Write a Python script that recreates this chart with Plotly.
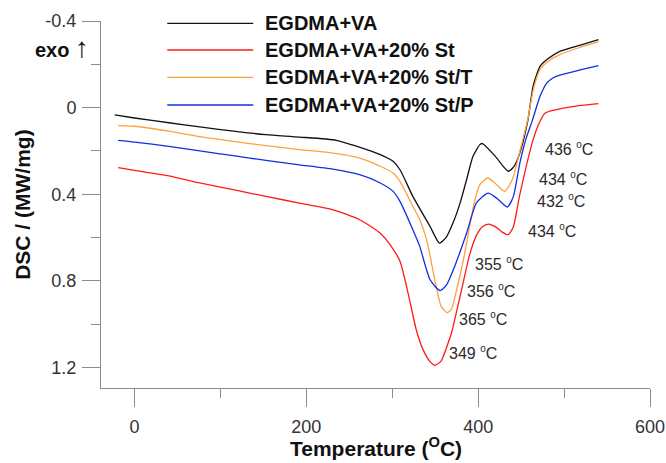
import plotly.graph_objects as go

# ---------------- data ----------------
series_names = ["EGDMA+VA", "EGDMA+VA+20% St", "EGDMA+VA+20% St/T", "EGDMA+VA+20% St/P"]
series_colors = ["#111111", "#ff1a1a", "#ffa040", "#1030e0"]

temp_black = [-23, 0, 40, 76, 115, 153, 192, 235, 259, 286, 301, 309, 324, 344, 355, 363, 371, 379, 386.5,
              394, 402, 405, 420, 435, 442, 448.5, 458, 464, 472, 480, 495, 520, 540]
dsc_black = [0.034, 0.048, 0.07, 0.089, 0.109, 0.125, 0.136, 0.151, 0.179, 0.217, 0.248, 0.287, 0.41, 0.549,
             0.626, 0.598, 0.53, 0.44, 0.333, 0.225, 0.171, 0.166, 0.225, 0.294, 0.27, 0.21, 0.055, -0.1,
             -0.19, -0.222, -0.26, -0.29, -0.314]

temp_red = [-19, 0, 40, 76, 115, 153, 192, 231, 262, 286, 297, 309, 321, 328, 336, 344, 350, 357, 363, 369,
            375, 383, 390, 398, 405, 412, 420, 428, 435, 441, 448, 456, 464, 470, 478, 490, 510, 540]
dsc_red = [0.277, 0.29, 0.315, 0.348, 0.379, 0.41, 0.441, 0.472, 0.518, 0.58, 0.63, 0.71, 0.903, 1.027, 1.119,
           1.173, 1.19, 1.17, 1.11, 1.04, 0.94, 0.8, 0.68, 0.59, 0.55, 0.538, 0.55, 0.575, 0.587, 0.55, 0.41,
           0.27, 0.148, 0.08, 0.025, 0.01, -0.005, -0.018]

temp_orange = [-19, 0, 40, 76, 115, 153, 192, 231, 262, 286, 301, 309, 324, 332, 340, 348, 352, 357, 364, 369,
               375, 383, 390, 396, 402, 411, 420, 431, 440, 448, 458, 464, 472, 480, 495, 520, 540]
dsc_orange = [0.083, 0.086, 0.109, 0.134, 0.156, 0.176, 0.194, 0.21, 0.233, 0.271, 0.302, 0.341, 0.456, 0.518,
              0.61, 0.765, 0.842, 0.918, 0.947, 0.93, 0.84, 0.7, 0.55, 0.43, 0.356, 0.325, 0.35, 0.387, 0.33,
              0.21, 0.05, -0.08, -0.176, -0.21, -0.245, -0.28, -0.305]

temp_blue = [-19, 0, 40, 76, 115, 153, 192, 231, 262, 286, 301, 309, 324, 332, 344, 355.5, 363, 371, 386.5,
             398, 411.6, 422, 434, 441, 448.5, 456, 463, 472, 480, 487, 495, 520, 540]
dsc_blue = [0.151, 0.159, 0.179, 0.2, 0.222, 0.244, 0.264, 0.284, 0.31, 0.348, 0.387, 0.433, 0.564, 0.641,
            0.795, 0.845, 0.82, 0.75, 0.58, 0.44, 0.395, 0.42, 0.459, 0.41, 0.256, 0.14, 0.06, -0.052, -0.114,
            -0.137, -0.15, -0.175, -0.194]

peak_labels = ["436", "434", "432", "434", "355", "356", "365", "349"]
peak_label_T = [476, 469, 466, 455.5, 394, 384.5, 375, 364]
peak_label_v = [0.19, 0.328, 0.43, 0.569, 0.721, 0.846, 0.975, 1.132]

x_tick_vals = [0, 200, 400, 600]
x_tick_text = ["0", "200", "400", "600"]
x_minor_vals = [100, 300, 500]
y_tick_vals = [-0.4, 0, 0.4, 0.8, 1.2]
y_tick_text = ["-0.4", "0", "0.4", "0.8", "1.2"]
y_minor_vals = [-0.2, 0.2, 0.6, 1.0]

x_title = "<b>Temperature (<sup>O</sup>C)</b>"
y_title = "<b>DSC / (MW/mg)</b>"

# ---------------- figure ----------------
temps = [temp_black, temp_red, temp_orange, temp_blue]
dscs = [dsc_black, dsc_red, dsc_orange, dsc_blue]

fig = go.Figure()
for name, color, t, d in zip(series_names, series_colors, temps, dscs):
    fig.add_trace(go.Scatter(x=t, y=d, mode="lines", name=name, showlegend=False,
                             line=dict(color=color, width=1.3, shape="spline", smoothing=0.6)))

FONT = "Liberation Sans, Arial, sans-serif"
AX = "#8c8c8c"

# peak labels
for lab, tx, vy in zip(peak_labels, peak_label_T, peak_label_v):
    fig.add_annotation(x=tx, y=vy, xref="x", yref="y",
                       text=f"{lab} <sup><span style='font-size:10px'>o</span></sup>C", showarrow=False,
                       xanchor="left", yanchor="middle", font=dict(family=FONT, size=16, color="#2a2a2a"))

# manual legend (long line samples like the reference)
leg_y = [0.9937, 0.921, 0.8466, 0.7711]
for name, color, yy in zip(series_names, series_colors, leg_y):
    fig.add_shape(type="line", xref="paper", yref="paper", x0=0.1207, x1=0.2773, y0=yy, y1=yy,
                  line=dict(color=color, width=1.3))
    fig.add_annotation(x=0.2955, y=yy, xref="paper", yref="paper", text=f"<b>{name}</b>", showarrow=False,
                       xanchor="left", yanchor="middle", font=dict(family=FONT, size=20, color="#111111"))

# exo arrow label
fig.add_annotation(x=-0.0705, y=0.929, xref="paper", yref="paper",
                   text="<b>exo</b> <span style='font-size:28px;color:#111111'>↑</span>", showarrow=False,
                   xanchor="center", yanchor="middle", font=dict(family=FONT, size=20, color="#111111"))

# axis titles
fig.add_annotation(x=-0.1433, y=0.5, xref="paper", yref="paper", text=y_title, textangle=-90,
                   showarrow=False, xanchor="center", yanchor="middle",
                   font=dict(family=FONT, size=21, color="#111111"))
fig.add_annotation(x=0.5, y=-0.1608, xref="paper", yref="paper", text=x_title,
                   showarrow=False, xanchor="center", yanchor="middle",
                   font=dict(family=FONT, size=21, color="#111111"))

fig.update_layout(
    width=666, height=463,
    margin=dict(l=101, r=16, t=21, b=75),
    paper_bgcolor="white", plot_bgcolor="white",
    font=dict(family=FONT, size=18, color="#333333"),
    showlegend=False,
)
fig.update_xaxes(range=[-39, 600], showgrid=False, zeroline=False, showline=True, linecolor=AX, linewidth=1,
                 automargin=False,
                 ticks="outside", ticklen=18, tickcolor=AX, tickwidth=1, ticklabelstandoff=4,
                 tickvals=x_tick_vals, ticktext=x_tick_text, tickfont=dict(size=18, color="#333333"),
                 minor=dict(tickvals=x_minor_vals, ticks="outside", ticklen=9, tickcolor=AX, tickwidth=1))
fig.update_yaxes(range=[1.295, -0.4], showgrid=False, zeroline=False, showline=True, linecolor=AX, linewidth=1,
                 automargin=False,
                 ticks="outside", ticklen=18, tickcolor=AX, tickwidth=1, ticklabelstandoff=2,
                 tickvals=y_tick_vals, ticktext=y_tick_text, tickfont=dict(size=18, color="#333333"),
                 minor=dict(tickvals=y_minor_vals, ticks="outside", ticklen=9, tickcolor=AX, tickwidth=1))

fig.write_html("out.html")
